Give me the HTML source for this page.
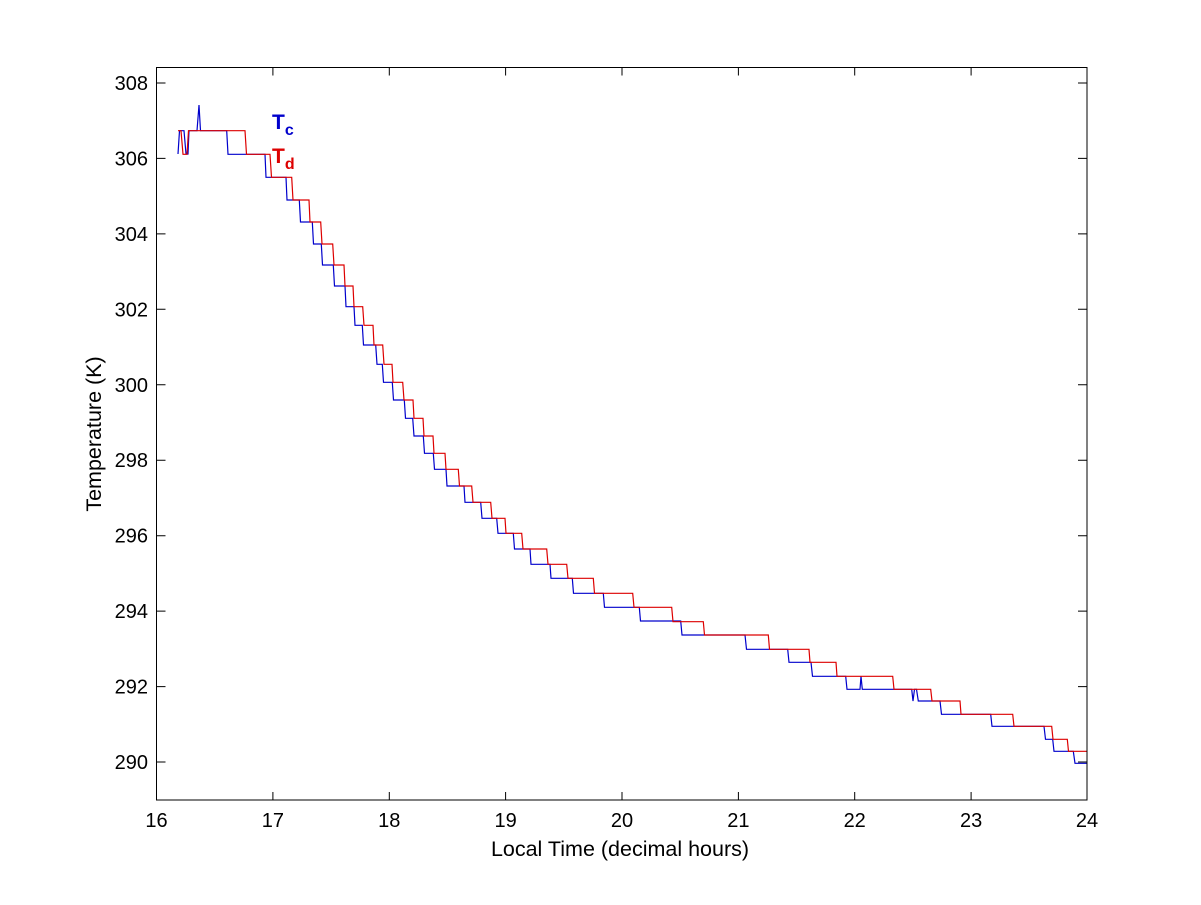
<!DOCTYPE html>
<html><head><meta charset="utf-8"><style>body{margin:0;background:#fff}svg text{font-family:"Liberation Sans",Arial,sans-serif}</style></head><body>
<svg width="1201" height="900" viewBox="0 0 1201 900" xmlns="http://www.w3.org/2000/svg">
<rect width="1201" height="900" fill="#fff"/>
<g id="plot">
<polyline fill="none" stroke="#0000cc" stroke-width="1.2" points="178,154 179.5,130.7 184,130.7 186,154 188,154 189,130.7 197,130.7 199,105 200.5,130.7 226.7,130.7 228,154.3 265,154.3 266,177.3 286,177.3 287,200 299.3,200 300.5,222 312.3,222 313.5,244 321.3,244 322.5,265 333.3,265 334.5,286 345,286 346,306.7 354,306.7 355,325.3 362.3,325.3 363.5,345 375.7,345 377,364.3 382.3,364.3 383.5,382.3 392.3,382.3 393.5,400 404.3,400 405.5,418.3 412.7,418.3 414,436 423.3,436 424.5,453.3 433.3,453.3 434.5,469.3 446,469.3 447,486 464,486 465,502.3 480.7,502.3 482,518.3 496.7,518.3 498,533.3 513.3,533.3 514.5,549 530,549 531,564.3 550,564.3 551,578.3 572.3,578.3 573.5,593.3 603.3,593.3 604.5,607.3 639.3,607.3 640.5,621 680.7,621 682,635 745,635 746.5,649.3 787.7,649.3 789,662.3 811,662.3 812.5,676.3 845.7,676.3 847,689.3 860,689.3 861,676.3 862.3,689.3 911.7,689.3 913,701 914.5,689.3 916.5,689.3 918.3,701 940,701 941.5,714.3 990.7,714.3 992,726.3 1044,726.3 1045.5,739.3 1052.7,739.3 1054,751.3 1073.3,751.3 1075,763.3 1087,763.3"/>
<polyline fill="none" stroke="#dd0000" stroke-width="1.2" points="178,130.7 181,130.7 183,154.3 187,154.3 188.5,130.7 245,130.7 246.5,154.3 270,154.3 271.5,177.3 291.7,177.3 293,200 309,200 310,222 320.7,222 322,244 332.7,244 334,265 344,265 345,286 353,286 354,306.7 362.7,306.7 364,325.3 373,325.3 374,345 382.7,345 384,364.3 392,364.3 393,382.3 402.7,382.3 404,400 413,400 414,418.3 423,418.3 424,436 433,436 434,453.3 445,453.3 446,469.3 458.3,469.3 459.5,486 471.7,486 473,502.3 490.7,502.3 492,518.3 505,518.3 506,533.3 521.7,533.3 523,549 546.7,549 548,564.3 566.7,564.3 568,578.3 593.3,578.3 594.5,593.3 632.7,593.3 634,607.3 671.7,607.3 673,621.7 703.3,621.7 704.5,635 768.3,635 769.5,649.3 809,649.3 810,662.3 836,662.3 837,676.3 892.7,676.3 894,689.3 930.7,689.3 932,701 960,701 961,714.3 1012.7,714.3 1014,726.3 1051.7,726.3 1053,739.3 1067.3,739.3 1068.5,751.3 1087,751.3"/>
</g>
<rect x="156.5" y="67.5" width="930.5" height="732.5" fill="none" stroke="#000" stroke-width="1"/>
<g stroke="#000" stroke-width="1">
<path d="M156.5,800v-8M272.9,800v-8M389.3,800v-8M505.6,800v-8M622,800v-8M738.4,800v-8M854.7,800v-8M971.1,800v-8M1087,800v-8"/>
<path d="M156.5,67.5v8M272.9,67.5v8M389.3,67.5v8M505.6,67.5v8M622,67.5v8M738.4,67.5v8M854.7,67.5v8M971.1,67.5v8"/>
<path d="M156.5,83h9M156.5,158.4h9M156.5,233.9h9M156.5,309.3h9M156.5,384.8h9M156.5,460.2h9M156.5,535.7h9M156.5,611.1h9M156.5,686.6h9M156.5,762h9"/>
<path d="M1087,83h-9M1087,158.4h-9M1087,233.9h-9M1087,309.3h-9M1087,384.8h-9M1087,460.2h-9M1087,535.7h-9M1087,611.1h-9M1087,686.6h-9M1087,762h-9"/>
</g>
<g font-size="20" fill="#000" text-anchor="middle">
<text x="156.5" y="827">16</text><text x="272.9" y="827">17</text><text x="389.3" y="827">18</text><text x="505.6" y="827">19</text><text x="622" y="827">20</text><text x="738.4" y="827">21</text><text x="854.7" y="827">22</text><text x="971.1" y="827">23</text><text x="1087" y="827">24</text>
</g>
<g font-size="20" fill="#000" text-anchor="end">
<text x="148" y="90">308</text><text x="148" y="165.4">306</text><text x="148" y="240.9">304</text><text x="148" y="316.3">302</text><text x="148" y="391.8">300</text><text x="148" y="467.2">298</text><text x="148" y="542.7">296</text><text x="148" y="618.1">294</text><text x="148" y="693.6">292</text><text x="148" y="769">290</text>
</g>
<text x="620" y="856" font-size="21.5" text-anchor="middle">Local Time (decimal hours)</text>
<text transform="translate(101,434) rotate(-90)" font-size="21.5" text-anchor="middle">Temperature (K)</text>
<text x="272" y="129" font-size="21" font-weight="bold" fill="#0000cc">T<tspan font-size="16" dy="6">c</tspan></text>
<text x="272" y="163" font-size="21" font-weight="bold" fill="#dd0000">T<tspan font-size="16" dy="6">d</tspan></text>
</svg>
</body></html>
